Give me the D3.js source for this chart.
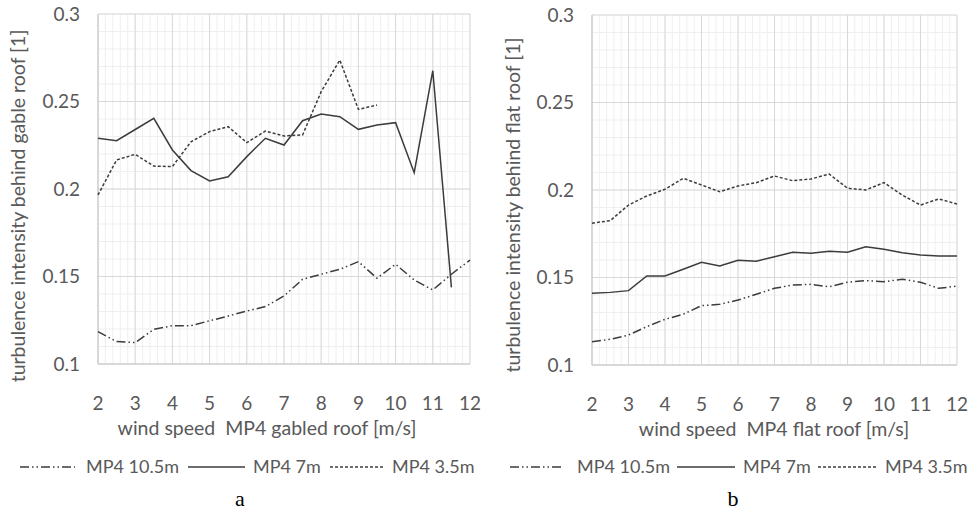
<!DOCTYPE html>
<html>
<head>
<meta charset="utf-8">
<script src="https://cdn.jsdelivr.net/npm/d3@7"></script>
<style>
  body { margin: 0; background: #fff; }
  svg { display: block; }
  text.title { white-space: pre; }
</style>
</head>
<body>
<svg id="chart" width="968" height="515"></svg>
<script>
// wind speed categories (m/s)
const windSpeed = [2, 2.5, 3, 3.5, 4, 4.5, 5, 5.5, 6, 6.5, 7, 7.5, 8, 8.5, 9, 9.5, 10, 10.5, 11, 11.5, 12];

// gabled roof (a)
const gable105 = [0.1185, 0.1128, 0.1122, 0.1198, 0.1219, 0.1219, 0.1247, 0.1274, 0.1303, 0.1328, 0.1389,
                  0.1484, 0.1513, 0.1541, 0.1585, 0.149, 0.157, 0.148, 0.1423, 0.1513, 0.1594];
const gable7 = [0.229, 0.2276, 0.234, 0.2404, 0.2223, 0.2105, 0.2046, 0.207, 0.2185, 0.229, 0.2251,
                0.239, 0.2429, 0.2413, 0.2341, 0.2366, 0.2379, 0.2093, 0.2676, 0.1438, null];
const gable35 = [0.1966, 0.2166, 0.2198, 0.2131, 0.2128, 0.227, 0.2328, 0.2356, 0.2265, 0.2331, 0.2303,
                 0.2309, 0.2556, 0.2737, 0.2455, 0.248, null, null, null, null, null];

// flat roof (b)
const flat105 = [0.1133, 0.1147, 0.1171, 0.1219, 0.1261, 0.129, 0.1339, 0.1347, 0.1371, 0.1404, 0.1438,
                 0.1457, 0.1461, 0.1447, 0.1473, 0.1482, 0.1476, 0.149, 0.1473, 0.1438, 0.1451];
const flat7 = [0.141, 0.1415, 0.1425, 0.1509, 0.1509, 0.1547, 0.1587, 0.1566, 0.1598, 0.1593, 0.1619,
               0.1644, 0.1638, 0.165, 0.1644, 0.1676, 0.1661, 0.1642, 0.1629, 0.1623, 0.1623];
const flat35 = [0.181, 0.1825, 0.1914, 0.1966, 0.2004, 0.2067, 0.2029, 0.199, 0.2023, 0.2042, 0.208,
                0.2053, 0.2063, 0.2091, 0.201, 0.2, 0.2042, 0.1971, 0.1914, 0.1949, 0.192];

const xTicks = [2, 3, 4, 5, 6, 7, 8, 9, 10, 11, 12];
const yTicks = [0.1, 0.15, 0.2, 0.25, 0.3];
const yTickLabels = ['0.1', '0.15', '0.2', '0.25', '0.3'];
const seriesNames = ['MP4 10.5m', 'MP4 7m', 'MP4 3.5m'];

const FONT = 'Lato, "Open Sans", sans-serif';
const LINE_COLOR = '#3c3c3c';
const TEXT_COLOR = '#595959';
const dashes = ['9,3,1.5,3,1.5,3', null, '3,2'];

const svg = d3.select('#chart');

// 畫一個面板
function drawPanel(cfg) {
    const x = d3.scaleLinear().domain([2, 12]).range([cfg.x0, cfg.x1]);
    const y = d3.scaleLinear().domain([0.1, 0.3]).range([cfg.y1, cfg.y0]);
    const g = svg.append('g');

    // minor grid
    const minorX = d3.range(2, 12.001, 0.2);
    const minorY = d3.range(0.1, 0.3001, 0.01);
    g.selectAll('.mx').data(minorX).enter().append('line')
        .attr('x1', d => x(d)).attr('x2', d => x(d))
        .attr('y1', cfg.y0).attr('y2', cfg.y1)
        .attr('stroke', '#efefef').attr('stroke-width', 1);
    g.selectAll('.my').data(minorY).enter().append('line')
        .attr('x1', cfg.x0).attr('x2', cfg.x1)
        .attr('y1', d => y(d)).attr('y2', d => y(d))
        .attr('stroke', '#efefef').attr('stroke-width', 1);

    // major grid
    g.selectAll('.gx').data(xTicks).enter().append('line')
        .attr('x1', d => x(d)).attr('x2', d => x(d))
        .attr('y1', cfg.y0).attr('y2', cfg.y1)
        .attr('stroke', '#d9d9d9').attr('stroke-width', 1);
    g.selectAll('.gy').data(yTicks).enter().append('line')
        .attr('x1', cfg.x0).attr('x2', cfg.x1)
        .attr('y1', d => y(d)).attr('y2', d => y(d))
        .attr('stroke', '#d9d9d9').attr('stroke-width', 1);

    // axis lines
    g.append('line').attr('x1', cfg.x0).attr('x2', cfg.x0).attr('y1', cfg.y0).attr('y2', cfg.y1)
        .attr('stroke', '#c8c8c8');
    g.append('line').attr('x1', cfg.x0).attr('x2', cfg.x1).attr('y1', cfg.y1).attr('y2', cfg.y1)
        .attr('stroke', '#c8c8c8');

    // tick labels
    g.selectAll('.yl').data(yTicks).enter().append('text')
        .attr('x', cfg.x0 - 18).attr('y', d => y(d))
        .attr('dy', '0.35em').attr('text-anchor', 'end')
        .attr('font-family', FONT).attr('font-size', 19).attr('fill', TEXT_COLOR)
        .text((d, i) => yTickLabels[i]);
    g.selectAll('.xl').data(xTicks).enter().append('text')
        .attr('x', d => x(d)).attr('y', cfg.y1 + 39)
        .attr('dy', '0.35em').attr('text-anchor', 'middle')
        .attr('font-family', FONT).attr('font-size', 19).attr('fill', TEXT_COLOR)
        .text(d => d);

    // axis titles
    g.append('text')
        .attr('class', 'title')
        .attr('x', cfg.xTitleX).attr('y', cfg.y1 + 64)
        .attr('dy', '0.35em').attr('text-anchor', 'middle')
        .attr('font-family', FONT).attr('font-size', 19.5).attr('fill', TEXT_COLOR)
        .text(cfg.xTitle);
    g.append('text')
        .attr('transform', `translate(${cfg.yTitleX},${cfg.yTitleY}) rotate(-90)`)
        .attr('dy', '0.35em').attr('text-anchor', 'middle')
        .attr('font-family', FONT).attr('font-size', 19.5).attr('fill', TEXT_COLOR)
        .text(cfg.yTitle);

    // lines
    const line = d3.line()
        .defined(d => d[1] != null)
        .x(d => x(d[0])).y(d => y(d[1]));
    cfg.series.forEach((vals, i) => {
        g.append('path')
            .datum(windSpeed.map((w, j) => [w, vals[j]]))
            .attr('d', line)
            .attr('fill', 'none')
            .attr('stroke', LINE_COLOR)
            .attr('stroke-width', 1.5)
            .attr('stroke-dasharray', dashes[i]);
    });

    // legend
    const ly = 467;
    cfg.legend.forEach((it, i) => {
        g.append('line')
            .attr('x1', it[0]).attr('x2', it[1]).attr('y1', ly).attr('y2', ly)
            .attr('stroke', LINE_COLOR).attr('stroke-width', 1.5)
            .attr('stroke-dasharray', dashes[i]);
        g.append('text')
            .attr('x', it[2]).attr('y', ly).attr('dy', '0.35em')
            .attr('font-family', FONT).attr('font-size', 18).attr('fill', TEXT_COLOR)
            .text(seriesNames[i]);
    });

    // panel letter
    g.append('text')
        .attr('x', cfg.letterX).attr('y', 506)
        .attr('text-anchor', 'middle')
        .attr('font-family', '"Liberation Serif", "DejaVu Serif", serif')
        .attr('font-size', 22).attr('fill', '#000')
        .text(cfg.letter);
}

drawPanel({
    x0: 98, x1: 470, y0: 14, y1: 364,
    series: [gable105, gable7, gable35],
    xTitle: 'wind speed  MP4 gabled roof [m/s]', xTitleX: 267,
    yTitle: 'turbulence intensity behind gable roof [1]', yTitleX: 18, yTitleY: 206,
    legend: [[20, 75, 86], [188, 245, 253], [330, 385, 392]],
    letter: 'a', letterX: 240
});

drawPanel({
    x0: 592, x1: 957, y0: 15, y1: 365,
    series: [flat105, flat7, flat35],
    xTitle: 'wind speed  MP4 flat roof [m/s]', xTitleX: 774,
    yTitle: 'turbulence intensity behind flat roof [1]', yTitleX: 513, yTitleY: 205,
    legend: [[510, 562, 577], [677, 735, 743], [818, 878, 885]],
    letter: 'b', letterX: 733
});
</script>
</body>
</html>
